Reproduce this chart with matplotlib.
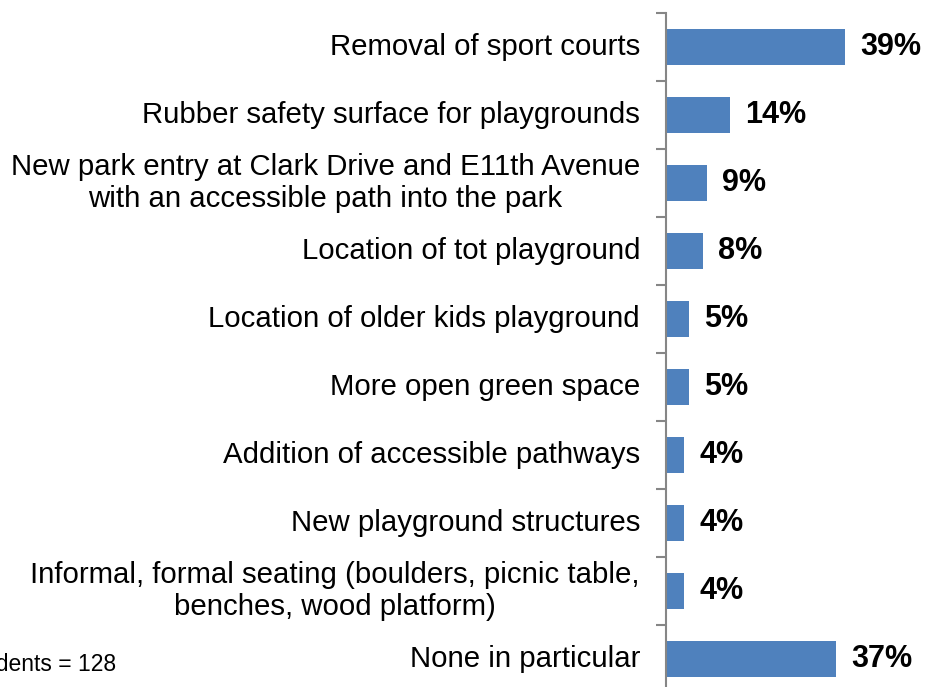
import matplotlib
matplotlib.use("Agg")
import matplotlib.pyplot as plt

categories = [
    "Removal of sport courts",
    "Rubber safety surface for playgrounds",
    "New park entry at Clark Drive and E11th Avenue\nwith an accessible path into the park",
    "Location of tot playground",
    "Location of older kids playground",
    "More open green space",
    "Addition of accessible pathways",
    "New playground structures",
    "Informal, formal seating (boulders, picnic table,\nbenches, wood platform)",
    "None in particular",
]
values = [39, 14, 9, 8, 5, 5, 4, 4, 4, 37]
value_labels = ["39%", "14%", "9%", "8%", "5%", "5%", "4%", "4%", "4%", "37%"]
note = "Total respondents = 128"

W, H = 926, 687
fig = plt.figure(figsize=(W / 100, H / 100), dpi=100)
plt.rcParams['font.family'] = ['Liberation Sans', 'DejaVu Sans']

ax_left = 666 / W
ax_top = 1 - 13 / H
ax_bottom = 1 - 693 / H
xmax = 55
px_per = 4.6
ax = fig.add_axes([ax_left, ax_bottom, xmax * px_per / W, ax_top - ax_bottom])

n = len(categories)
ypos = list(range(n))
ax.barh(ypos, values, height=0.53, color="#4F81BD", zorder=2)
ax.set_ylim(n - 0.5, -0.5)
ax.set_xlim(0, xmax)

for s in ["top", "right", "bottom"]:
    ax.spines[s].set_visible(False)
ax.spines["left"].set_color("#868686")
ax.spines["left"].set_linewidth(1.5)
ax.set_xticks([])
ax.set_yticks([i - 0.5 for i in range(n + 1)])
ax.set_yticklabels([])
ax.tick_params(axis="y", length=7, width=1.5, color="#868686", direction="out")

for i, c in enumerate(categories):
    ax.annotate(c, xy=(0, i), xytext=(-26, 0), textcoords="offset pixels",
                ha="right", va="center", fontsize=21.2, color="black",
                multialignment="center", linespacing=1.15)

for i, (v, lab) in enumerate(zip(values, value_labels)):
    ax.annotate(lab, xy=(v, i), xytext=(15, 0), textcoords="offset pixels",
                ha="left", va="center", fontsize=22, fontweight="bold", color="black")

fig.text(116 / W, 1 - 665 / H, note, ha="right", va="center", fontsize=16.5,
         family=["Liberation Sans Narrow", "Liberation Sans", "DejaVu Sans"])

fig.savefig("out.png", dpi=100)
